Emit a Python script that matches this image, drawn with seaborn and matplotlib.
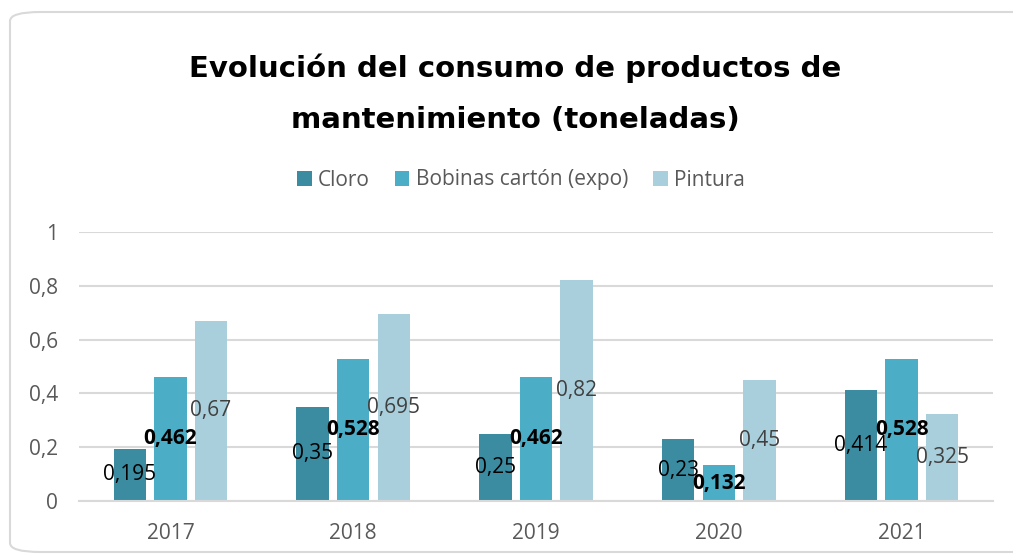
import matplotlib
matplotlib.use("Agg")
import matplotlib.pyplot as plt
import seaborn as sns
import pandas as pd
from matplotlib.patches import FancyBboxPatch

years = ["2017", "2018", "2019", "2020", "2021"]
series = ["Cloro", "Bobinas cartón (expo)", "Pintura"]
cloro = [0.195, 0.35, 0.25, 0.23, 0.414]
bobinas = [0.462, 0.528, 0.462, 0.132, 0.528]
pintura = [0.67, 0.695, 0.82, 0.45, 0.325]
yticks = [0, 0.2, 0.4, 0.6, 0.8, 1]
ytick_labels = ["0", "0,2", "0,4", "0,6", "0,8", "1"]
title = "Evolución del consumo de productos de\nmantenimiento (toneladas)"

colors = ["#3B8BA1", "#4BADC6", "#A9CFDC"]
label_colors = ["#000000", "#000000", "#404040"]
label_weights = ["normal", "bold", "normal"]

df = pd.DataFrame({
    "year": years * 3,
    "serie": [series[0]] * 5 + [series[1]] * 5 + [series[2]] * 5,
    "value": cloro + bobinas + pintura,
})

sns.set_theme(style="white")
plt.rcParams["font.family"] = ["Open Sans", "DejaVu Sans"]

fig = plt.figure(figsize=(10.13, 5.54), dpi=100)
ax = fig.add_axes([79 / 1013, 1 - 501 / 554, (993 - 79) / 1013, (501 - 232) / 554])

sns.barplot(data=df, x="year", y="value", hue="serie", order=years, hue_order=series,
            palette=colors, width=0.665, gap=0.2, ax=ax, legend=True, saturation=1,
            linewidth=0, edgecolor="none")

vals = [cloro, bobinas, pintura]
for i, cont in enumerate(ax.containers):
    labs = [f"{v:g}".replace(".", ",") for v in vals[i]]
    ax.bar_label(cont, labels=labs, label_type="center", fontsize=15,
                 color=label_colors[i], fontweight=label_weights[i])

ax.set_ylim(0, 1)
ax.set_yticks(yticks)
ax.set_yticklabels(ytick_labels)
ax.set_xlim(-0.5, 4.5)
ax.set_xlabel("")
ax.set_ylabel("")
ax.grid(axis="y", color="#D9D9D9", linewidth=1.5)
ax.set_axisbelow(True)
for s in ["top", "right", "left"]:
    ax.spines[s].set_visible(False)
ax.spines["bottom"].set_color("#D9D9D9")
ax.spines["bottom"].set_linewidth(1.5)
ax.tick_params(axis="both", length=0, labelsize=15, colors="#595959")
ax.tick_params(axis="y", pad=15)
ax.tick_params(axis="x", pad=16)

handles, labels = ax.get_legend_handles_labels()
ax.get_legend().remove()
fig.legend(handles, labels, loc="center", bbox_to_anchor=(521 / 1013, 1 - 180 / 554),
           ncol=3, frameon=False, fontsize=15, labelcolor="#595959",
           handlelength=0.7, handleheight=0.7, handletextpad=0.3, columnspacing=1.2)

fig.text(515 / 1013, 1 - 94 / 554, title, ha="center", va="center", fontsize=21,
         fontweight="heavy", family=["DejaVu Sans"], linespacing=2.05, color="#000000")

border = FancyBboxPatch((10 / 1013, 2 / 554), 1080 / 1013, 540 / 554,
                        boxstyle="round,pad=0,rounding_size=0.03",
                        transform=fig.transFigure, facecolor="none",
                        edgecolor="#D9D9D9", linewidth=1.5, mutation_aspect=554 / 1013)
fig.patches.append(border)

fig.savefig("out.png", dpi=100)
